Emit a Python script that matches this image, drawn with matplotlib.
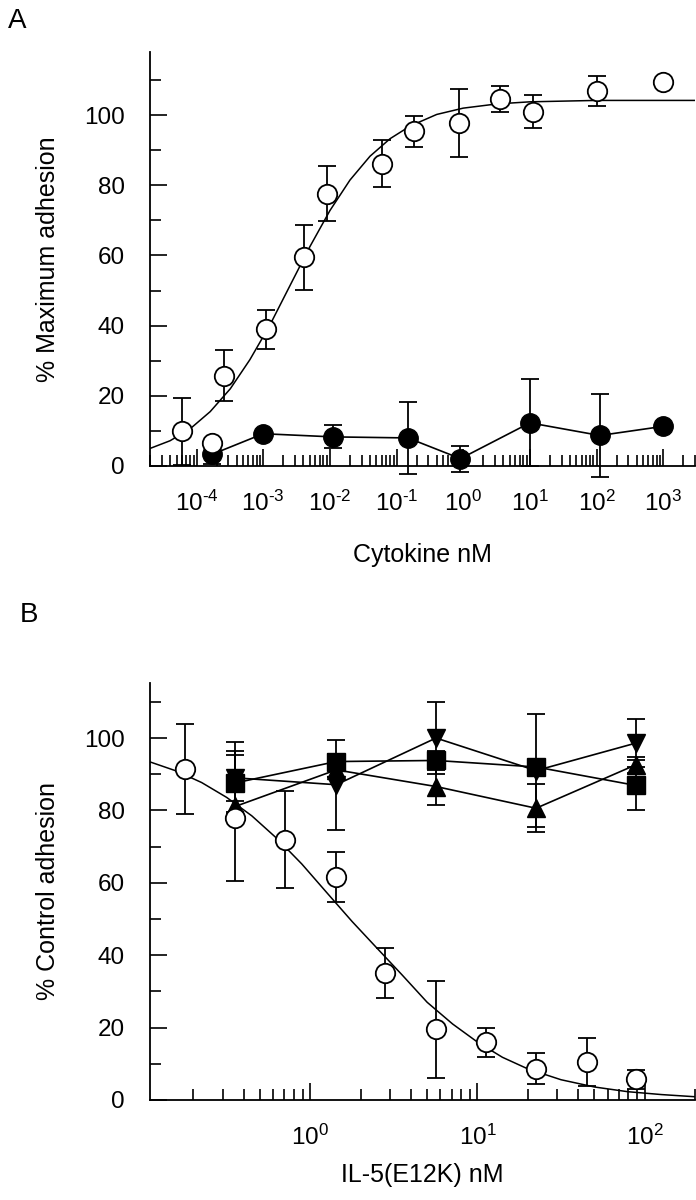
import matplotlib
matplotlib.use("Agg")
import matplotlib.pyplot as plt
import numpy as np
from matplotlib.ticker import FixedLocator, LogLocator, MultipleLocator, FuncFormatter, NullFormatter

plt.rcParams['font.family'] = ['Liberation Sans', 'DejaVu Sans']
plt.rcParams['mathtext.fontset'] = 'custom'
plt.rcParams['mathtext.rm'] = 'Liberation Sans'
plt.rcParams['mathtext.it'] = 'Liberation Sans:italic'
plt.rcParams['mathtext.bf'] = 'Liberation Sans:bold'

# Panel A: cytokine dose response (open = active, filled = inactive)
cyt_open_x = [6e-5, 1.7e-4, 2.6e-4, 1.1e-3, 4.1e-3, 9.2e-3, 0.061, 0.18, 0.85, 3.6, 11.2, 100, 1000]
cyt_open_y = [9.9, 6.6, 25.7, 39.0, 59.5, 77.6, 86.2, 95.4, 97.7, 104.5, 101.0, 106.9, 109.5]
cyt_open_err = [9.5, 0, 7.3, 5.6, 9.3, 7.8, 6.6, 4.5, 9.7, 3.7, 4.7, 4.3, 0]

cyt_filled_x = [1.7e-4, 1e-3, 0.011, 0.148, 0.91, 10, 112, 1000]
cyt_filled_y = [3.3, 9.2, 8.3, 8.0, 2.1, 12.3, 8.7, 11.3]
cyt_filled_err = [2.7, 0, 3.3, 10.2, 3.7, 12.4, 11.8, 0]

# fitted curve, points
fit_a_x = [2e-5, 4e-5, 8e-5, 1.6e-4, 3.2e-4, 6.3e-4, 1.26e-3, 2.5e-3, 5e-3, 0.01,
           0.02, 0.04, 0.08, 0.16, 0.4, 1, 3.2, 10, 100, 3000]
fit_a_y = [5.0, 7.2, 10.6, 15.5, 22.0, 30.3, 40.2, 51.3, 62.5, 72.8,
           81.5, 88.3, 93.3, 96.9, 100.2, 102.0, 103.2, 103.8, 104.2, 104.2]

# Panel B: IL-5(E12K) inhibition
il5_x = [0.177, 0.356, 0.71, 1.43, 2.81, 5.65, 11.2, 22.4, 45, 88.6]
il5_open_y = [91.4, 77.9, 71.9, 61.6, 35.0, 19.5, 15.9, 8.7, 10.5, 5.7]
il5_open_err = [12.5, 17.3, 13.4, 6.8, 6.9, 13.5, 4.0, 4.4, 6.6, 2.7]

ctrl_x = [0.356, 1.43, 5.65, 22.4, 88.6]
square_y = [87.6, 93.5, 93.8, 92.0, 86.9]
square_err = [8.7, 2.0, 2.5, 2.0, 6.9]
tri_down_y = [89.0, 87.1, 100.0, 91.0, 98.6]
tri_down_err = [10.0, 12.4, 10.0, 15.5, 6.7]
tri_up_y = [81.1, 91.2, 86.6, 80.6, 92.6]
tri_up_err = [1.5, 2.0, 5.0, 6.7, 2.2]

fit_b_x = [0.11, 0.158, 0.224, 0.316, 0.447, 0.63, 0.89, 1.26, 1.78, 2.5, 3.55,
           5.0, 7.1, 10, 14.1, 20, 31.6, 50, 79, 126, 200]
fit_b_y = [93.4, 90.9, 87.7, 83.6, 78.5, 72.3, 65.2, 57.2, 49.3, 42.0, 34.5,
           27.0, 21.0, 16.0, 11.8, 8.6, 5.6, 3.6, 2.3, 1.5, 0.9]


def decade_label(v, pos):
    exp = int(round(np.log10(v)))
    sign = '\u2010' if exp < 0 else ''
    return r'$\mathregular{10^{%s%d}}$' % (sign, abs(exp))


def style_axes(ax):
    for s in ['top', 'right']:
        ax.spines[s].set_visible(False)
    for s in ['left', 'bottom']:
        ax.spines[s].set_linewidth(1.3)
    ax.tick_params(which='major', direction='in', length=12, width=1.2, labelsize=17.5)
    ax.tick_params(which='minor', direction='in', length=8, width=1.2)
    ax.tick_params(axis='y', pad=18)
    ax.tick_params(axis='x', pad=18)
    ax.yaxis.set_major_locator(MultipleLocator(20))
    ax.yaxis.set_minor_locator(MultipleLocator(10))
    ax.xaxis.set_major_formatter(FuncFormatter(decade_label))
    ax.xaxis.set_minor_locator(LogLocator(base=10, subs=np.arange(2, 10), numticks=100))
    ax.xaxis.set_minor_formatter(NullFormatter())


def draw_errors(ax, x, y, err):
    cont = ax.errorbar(x, y, yerr=err, fmt='none', ecolor='k', elinewidth=1.3,
                       capsize=6.5, capthick=1.3, zorder=3)
    for art in list(cont.lines[1]) + list(cont.lines[2]):
        art.set_clip_on(False)


fig = plt.figure(figsize=(6.96, 12), dpi=100)
ax_a = fig.add_axes([150 / 696, 1 - 466 / 1200, 545 / 696, 414 / 1200])
ax_b = fig.add_axes([150 / 696, 1 - 1100 / 1200, 545 / 696, 417 / 1200])

# ---- panel A
ax_a.set_xscale('log')
ax_a.plot(fit_a_x, fit_a_y, color='k', lw=1.1, zorder=2)
draw_errors(ax_a, cyt_open_x, cyt_open_y, cyt_open_err)
draw_errors(ax_a, cyt_filled_x, cyt_filled_y, cyt_filled_err)
ax_a.plot(cyt_filled_x, cyt_filled_y, '-o', color='k', lw=1.2, ms=14, zorder=4, clip_on=False)
ax_a.plot(cyt_open_x, cyt_open_y, 'o', mfc='white', mec='k', mew=1.3, ms=14, zorder=5, clip_on=False)
ax_a.set_xlim(2e-5, 3e3)
ax_a.set_ylim(0, 118)
style_axes(ax_a)
ax_a.xaxis.set_major_locator(FixedLocator([1e-4, 1e-3, 1e-2, 1e-1, 1e0, 1e1, 1e2, 1e3]))
ax_a.set_ylabel('% Maximum adhesion', fontsize=18)
ax_a.set_xlabel('Cytokine nM', fontsize=18)
ax_a.yaxis.set_label_coords(-0.165, 0.5)
ax_a.xaxis.set_label_coords(0.5, -0.186)

# ---- panel B
ax_b.set_xscale('log')
ax_b.plot(fit_b_x, fit_b_y, color='k', lw=1.1, zorder=2)
draw_errors(ax_b, il5_x, il5_open_y, il5_open_err)
draw_errors(ax_b, ctrl_x, square_y, square_err)
draw_errors(ax_b, ctrl_x, tri_down_y, tri_down_err)
draw_errors(ax_b, ctrl_x, tri_up_y, tri_up_err)
ax_b.plot(ctrl_x, tri_up_y, '-^', color='k', lw=1.2, ms=13, zorder=4)
ax_b.plot(ctrl_x, tri_down_y, '-v', color='k', lw=1.2, ms=13, zorder=4)
ax_b.plot(ctrl_x, square_y, '-s', color='k', lw=1.2, ms=13, zorder=4)
ax_b.plot(il5_x, il5_open_y, 'o', mfc='white', mec='k', mew=1.3, ms=14, zorder=5, clip_on=False)
ax_b.set_xlim(0.11, 200)
ax_b.set_ylim(0, 115.2)
style_axes(ax_b)
ax_b.xaxis.set_major_locator(FixedLocator([1, 10, 100]))
ax_b.set_ylabel('% Control adhesion', fontsize=18)
ax_b.set_xlabel('IL-5(E12K) nM', fontsize=18)
ax_b.yaxis.set_label_coords(-0.165, 0.5)
ax_b.xaxis.set_label_coords(0.5, -0.151)

fig.text(8 / 696, 1 - 8 / 1200, 'A', fontsize=20, va='top', ha='left')
fig.text(20 / 696, 1 - 602 / 1200, 'B', fontsize=20, va='top', ha='left')

fig.savefig('out.png', dpi=100)
